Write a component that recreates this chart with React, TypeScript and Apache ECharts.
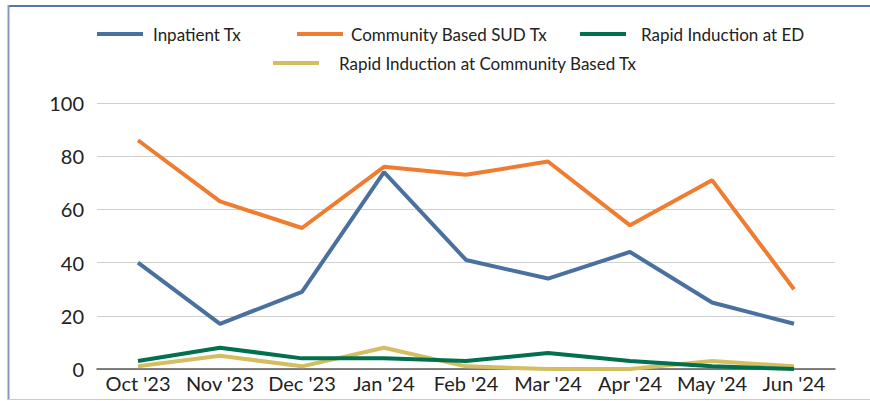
import React, { useEffect, useRef } from "react";
import * as echarts from "echarts";

const categories = ["Oct '23", "Nov '23", "Dec '23", "Jan '24", "Feb '24", "Mar '24", "Apr '24", "May '24", "Jun '24"];
const inpatient = [40, 17, 29, 74, 41, 34, 44, 25, 17];
const community = [86, 63, 53, 76, 73, 78, 54, 71, 30];
const rapidED = [3, 8, 4, 4, 3, 6, 3, 1, 0];
const rapidCommunity = [1, 5, 1, 8, 1, 0, 0, 3, 1];
const yTicks = [0, 20, 40, 60, 80, 100];

const names = ["Inpatient Tx", "Community Based SUD Tx", "Rapid Induction at ED", "Rapid Induction at Community Based Tx"];
const colors = ["#4A70A0", "#EF7C30", "#00704E", "#D5BD62"];

export default function App() {
  const ref = useRef<HTMLDivElement>(null);
  useEffect(() => {
    document.body.style.margin = "0";
    const chart = echarts.init(ref.current!, null, { renderer: "svg" });
    // icon left x, row center y, gap from icon to text
    const legendLayout = [
      { ix: 97, y: 34, gap: 10 },
      { ix: 297, y: 34, gap: 8 },
      { ix: 580, y: 34, gap: 15 },
      { ix: 273, y: 63, gap: 20 },
    ];
    chart.setOption({
      animation: false,
      color: colors,
      legend: names.map((n, i) => ({
        data: [n],
        left: legendLayout[i].ix,
        top: legendLayout[i].y - 10,
        itemWidth: 46,
        itemHeight: 4,
        itemGap: 0,
        icon: "rect",
        padding: 0,
        textStyle: {
          fontFamily: "Lato, sans-serif",
          fontSize: 17,
          color: "#222",
          lineHeight: 20,
          padding: [0, 0, 0, legendLayout[i].gap - 5],
        },
      })),
      graphic: [
        { type: "line", shape: { x1: 8, y1: 6, x2: 870, y2: 6 }, style: { stroke: "#5676AE", lineWidth: 2 } },
        { type: "line", shape: { x1: 8.5, y1: 5, x2: 8.5, y2: 400 }, style: { stroke: "#8499BC", lineWidth: 2 } },
        { type: "line", shape: { x1: 8, y1: 399.5, x2: 870, y2: 399.5 }, style: { stroke: "#C3CBE2", lineWidth: 1 } },
      ],
      grid: { left: 97, right: 35, top: 103, bottom: 32, containLabel: false },
      xAxis: {
        type: "category",
        data: categories,
        boundaryGap: true,
        axisLine: { lineStyle: { color: "#595959", width: 1.5 } },
        axisTick: { show: false },
        axisLabel: { fontFamily: "Lato, sans-serif", fontSize: 20, color: "#222", margin: 4, interval: 0 },
      },
      yAxis: {
        type: "value",
        min: yTicks[0],
        max: yTicks[yTicks.length - 1],
        interval: 20,
        axisLine: { show: false },
        axisTick: { show: false },
        splitLine: { lineStyle: { color: "#D0D0D0", width: 1 } },
        axisLabel: { fontFamily: "Lato, sans-serif", fontSize: 20, color: "#222", margin: 13 },
      },
      series: [inpatient, community, rapidED, rapidCommunity].map((d, i) => ({
        name: names[i],
        type: "line",
        data: d,
        symbol: "none",
        lineStyle: { width: 4, color: colors[i] },
        z: i === 2 ? 4 : 2,
      })),
    });
    return () => chart.dispose();
  }, []);
  return <div ref={ref} style={{ width: 870, height: 401 }} />;
}
